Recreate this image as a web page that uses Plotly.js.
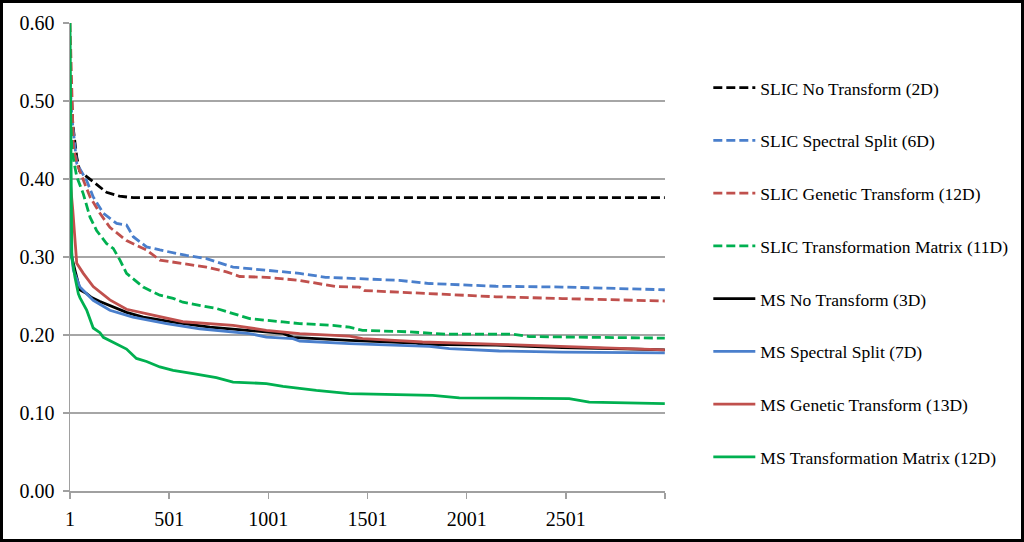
<!DOCTYPE html>
<html>
<head>
<meta charset="utf-8">
<script src="https://cdn.plot.ly/plotly-3.0.1.min.js"></script>
<style>
  body { margin: 0; background: #fff; }
  #chart { width: 1024px; height: 542px; }
  #frame { position: absolute; left: 0; top: 0; width: 1024px; height: 542px;
           box-sizing: border-box; border: 3px solid #000; pointer-events: none; }
</style>
</head>
<body>
<div id="chart"></div>
<div id="frame"></div>
<script>
// iteration numbers and values
var slicNoX = [1, 15, 35, 50, 85, 125, 185, 250, 320, 1000, 2000, 3000];
var slicNoY = [0.55, 0.47, 0.428, 0.41, 0.403, 0.395, 0.383, 0.378, 0.376, 0.376, 0.376, 0.376];

var slicSpecX = [1, 10, 35, 85, 118, 169, 236, 286, 320, 387, 454, 588, 689, 823, 907, 991, 1159, 1290, 1410, 1661, 1813, 2149, 2483, 3000];
var slicSpecY = [0.53, 0.48, 0.42, 0.398, 0.377, 0.356, 0.343, 0.341, 0.326, 0.313, 0.309, 0.302, 0.298, 0.287, 0.285, 0.283, 0.279, 0.274, 0.273, 0.270, 0.266, 0.2625, 0.2615, 0.258];

var slicGenX = [1, 12, 18, 35, 68, 102, 152, 202, 286, 387, 454, 555, 689, 790, 857, 991, 1159, 1343, 1461, 1486, 1713, 2149, 2483, 3000];
var slicGenY = [0.60, 0.51, 0.441, 0.42, 0.40, 0.377, 0.356, 0.338, 0.321, 0.309, 0.296, 0.292, 0.287, 0.281, 0.275, 0.274, 0.270, 0.262, 0.2615, 0.257, 0.254, 0.249, 0.2467, 0.2436];

var slicMatX = [1, 10, 35, 68, 102, 135, 186, 219, 253, 286, 370, 454, 521, 570, 739, 907, 1075, 1159, 1326, 1410, 1476, 1713, 1897, 2231, 2317, 3000];
var slicMatY = [0.50, 0.437, 0.403, 0.381, 0.351, 0.334, 0.317, 0.311, 0.296, 0.279, 0.2615, 0.251, 0.247, 0.242, 0.234, 0.221, 0.2167, 0.2146, 0.2124, 0.210, 0.206, 0.204, 0.201, 0.201, 0.198, 0.196];

var msNoX = [1, 10, 26, 43, 51, 85, 110, 152, 202, 286, 370, 538, 706, 907, 1075, 1125, 1410, 1746, 1778, 2149, 2483, 2854, 3000];
var msNoY = [0.36, 0.30, 0.283, 0.266, 0.258, 0.253, 0.248, 0.243, 0.238, 0.229, 0.223, 0.216, 0.210, 0.206, 0.202, 0.197, 0.193, 0.1897, 0.188, 0.187, 0.184, 0.182, 0.181];

var msSpecX = [1, 10, 18, 51, 118, 202, 318, 488, 655, 907, 991, 1125, 1159, 1410, 1813, 1914, 2166, 2483, 3000];
var msSpecY = [0.36, 0.30, 0.283, 0.2615, 0.2445, 0.2317, 0.223, 0.2146, 0.208, 0.2018, 0.1974, 0.1954, 0.1923, 0.189, 0.1855, 0.1826, 0.1795, 0.178, 0.177];

var msGenX = [1, 15, 35, 68, 118, 202, 286, 454, 570, 823, 991, 1159, 1410, 1476, 1778, 2166, 2317, 2820, 3000];
var msGenY = [0.40, 0.36, 0.292, 0.279, 0.262, 0.245, 0.233, 0.223, 0.217, 0.2124, 0.206, 0.2018, 0.1985, 0.1954, 0.191, 0.188, 0.1868, 0.1826, 0.181];

var msMatX = [1, 6, 10, 26, 43, 51, 85, 118, 152, 169, 236, 286, 336, 387, 454, 521, 622, 739, 823, 991, 1075, 1159, 1243, 1410, 1578, 1830, 1964, 2166, 2518, 2619, 3000];
var msMatY = [0.60, 0.38, 0.30, 0.274, 0.253, 0.248, 0.232, 0.209, 0.203, 0.197, 0.189, 0.182, 0.170, 0.166, 0.159, 0.1547, 0.1505, 0.1454, 0.1397, 0.1377, 0.1342, 0.1313, 0.129, 0.1249, 0.124, 0.1227, 0.1195, 0.119, 0.1185, 0.114, 0.112];

var names = [
  'SLIC No Transform (2D)', 'SLIC Spectral Split (6D)', 'SLIC Genetic Transform (12D)',
  'SLIC Transformation Matrix (11D)', 'MS No Transform (3D)', 'MS Spectral Split (7D)',
  'MS Genetic Transform (13D)', 'MS Transformation Matrix (12D)'
];
var xs = [slicNoX, slicSpecX, slicGenX, slicMatX, msNoX, msSpecX, msGenX, msMatX];
var ys = [slicNoY, slicSpecY, slicGenY, slicMatY, msNoY, msSpecY, msGenY, msMatY];

var black = '#000000', blue = '#4a7fcc', red = '#c0504d', green = '#00b050';
var colors = [black, blue, red, green, black, blue, red, green];
var dashes = ['9px,4px', '9px,4px', '9px,4px', '9px,4px', 'solid', 'solid', 'solid', 'solid'];

var xTicks = [1, 501, 1001, 1501, 2001, 2501, 3001];
var xTickText = ['1', '501', '1001', '1501', '2001', '2501', ''];
var yTicks = [0, 0.1, 0.2, 0.3, 0.4, 0.5, 0.6];

var serif = 'Times New Roman, Liberation Serif, DejaVu Serif, serif';

var data = names.map(function (n, i) {
  return {
    x: xs[i],
    y: ys[i],
    name: n,
    type: 'scatter',
    mode: 'lines',
    legendgroup: 'g' + i,
    line: { color: colors[i], width: 2.8, dash: dashes[i] }
  };
});

var layout = {
  width: 1024,
  height: 542,
  margin: { l: 70, r: 358, t: 23, b: 51 },
  paper_bgcolor: '#fff',
  plot_bgcolor: '#fff',
  font: { family: serif, color: '#000' },
  showlegend: true,
  legend: {
    x: 1.071, xanchor: 'left',
    y: 0.9, yanchor: 'top',
    traceorder: 'grouped',
    tracegroupgap: 27,
    itemwidth: 42,
    font: { family: serif, size: 17.5, color: '#000' },
    bgcolor: 'rgba(0,0,0,0)'
  },
  xaxis: {
    range: [1, 3001],
    tickmode: 'array',
    tickvals: xTicks,
    ticktext: xTickText,
    ticks: 'outside',
    ticklen: 6,
    tickcolor: '#a0a0a0',
    tickwidth: 1.5,
    ticklabelstandoff: 3,
    showgrid: false,
    zeroline: false,
    showline: true,
    linecolor: '#a0a0a0',
    linewidth: 1.5,
    tickfont: { family: serif, size: 20, color: '#000' }
  },
  yaxis: {
    range: [0, 0.6],
    tickmode: 'array',
    tickvals: yTicks,
    tickformat: '.2f',
    ticks: 'outside',
    ticklen: 6,
    tickcolor: '#a0a0a0',
    tickwidth: 1.5,
    ticklabelstandoff: 4,
    showgrid: true,
    gridcolor: '#a6a6a6',
    gridwidth: 1.5,
    zeroline: false,
    showline: true,
    linecolor: '#a0a0a0',
    linewidth: 1.5,
    tickfont: { family: serif, size: 20, color: '#000' }
  }
};

Plotly.newPlot('chart', data, layout, { staticPlot: true });
</script>
</body>
</html>
